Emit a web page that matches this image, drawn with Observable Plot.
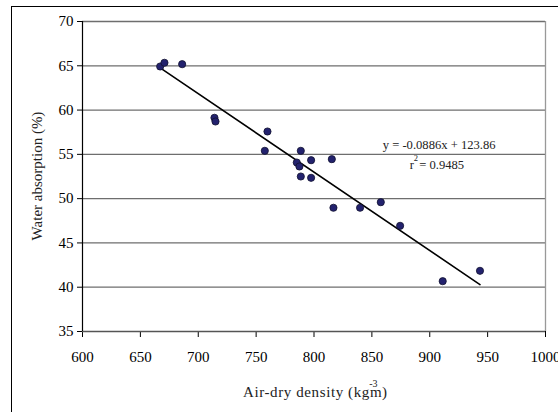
<!DOCTYPE html>
<html><head><meta charset="utf-8">
<script src="https://cdn.jsdelivr.net/npm/d3@7"></script>
<script src="https://cdn.jsdelivr.net/npm/@observablehq/plot@0.6"></script>
<style>body{margin:0;background:#fff;overflow:hidden}</style>
</head><body><div id="chart"></div>
<script>
// Data
const density    = [667.1, 670.8, 686.1, 714.0, 714.9, 759.8, 757.5, 788.6, 797.5, 785.1, 787.4, 788.6, 797.5, 815.4, 816.8, 839.8, 857.7, 874.4, 911.2, 943.4];
const absorption = [64.92, 65.34, 65.18, 59.13, 58.71, 57.58, 55.40, 55.40, 54.34, 54.08, 53.63, 52.50, 52.35, 54.46, 48.97, 48.97, 49.60, 46.93, 40.68, 41.85];
const xTicks = [600, 650, 700, 750, 800, 850, 900, 950, 1000];
const yTicks = [35, 40, 45, 50, 55, 60, 65, 70];
const equationText = "y = -0.0886x + 123.86";
const rText = "r";
const rSup = "2";
const rValue = "= 0.9485";
const xLabelMain = "Air-dry density (kgm";
const xLabelSup = "-3";
const xLabelEnd = ")";
const yLabel = "Water absorption (%)";
// annotation anchor positions (data units)
const annX = [908.1, 884.6, 888.1, 890.9];
const annY = [56.11, 53.83, 54.53, 53.83];

const data = density.map((d, i) => ({x: d, y: absorption[i]}));
const font = "'Liberation Serif', 'Times New Roman', Times, serif";

const W = 558, H = 412;
const mL = 82, mR = 13, mT = 21, mB = 81;

const plot = Plot.plot({
  width: W, height: H,
  marginLeft: mL, marginRight: mR, marginTop: mT, marginBottom: mB,
  style: {fontFamily: font, fontSize: "15px", background: "transparent", color: "#000", overflow: "visible"},
  x: {domain: [600, 1000], ticks: xTicks, tickSize: 6, tickPadding: 14, label: null, tickFormat: d => String(d)},
  y: {domain: [35, 70], ticks: yTicks, tickSize: 5, tickPadding: 4, label: null},
  marks: [
    Plot.ruleY(yTicks.slice(1), {stroke: "#6e6e6e", strokeWidth: 1.3}),
    Plot.ruleX([1000], {stroke: "#999", strokeWidth: 1.3}),
    Plot.ruleY([35], {stroke: "#555", strokeWidth: 1.3}),
    Plot.ruleX([600], {stroke: "#000", strokeWidth: 1.2}),
    Plot.linearRegressionY(data, {x: "x", y: "y", stroke: "#000", strokeWidth: 1.6, ci: 0}),
    Plot.dot(data, {x: "x", y: "y", r: 3.6, fill: "#23226e", stroke: "#10102e", strokeWidth: 0.8}),
    Plot.text([equationText], {x: [annX[0]], y: [annY[0]], text: d => d, fontSize: 12.6, textAnchor: "middle", fill: "#222"}),
    Plot.text([rText], {x: [annX[1]], y: [annY[1]], text: d => d, fontSize: 12.6, textAnchor: "middle", fill: "#222"}),
    Plot.text([rSup], {x: [annX[2]], y: [annY[2]], text: d => d, fontSize: 8.5, textAnchor: "middle", fill: "#222"}),
    Plot.text([rValue], {x: [annX[3]], y: [annY[3]], text: d => d, fontSize: 12.6, textAnchor: "start", fill: "#222"})
  ]
});

const svg = d3.select(plot);
svg.append("rect")
  .attr("x", 11.5).attr("y", 6.5).attr("width", W + 20).attr("height", H + 20)
  .attr("fill", "none").attr("stroke", "#000").attr("stroke-width", 1);
const xl = svg.append("text")
  .attr("x", 243).attr("y", 397)
  .attr("text-anchor", "start").attr("font-size", 15).attr("fill", "#222");
xl.append("tspan").attr("letter-spacing", 0.6).text(xLabelMain);
xl.append("tspan").attr("dx", -13).attr("dy", -10).attr("font-size", 10).text(xLabelSup);
xl.append("tspan").attr("dx", 4.5).attr("dy", 10).text(xLabelEnd);
svg.append("text")
  .attr("transform", `translate(42,${(mT + (H - mB)) / 2}) rotate(-90)`)
  .attr("text-anchor", "middle").attr("font-size", 15).attr("fill", "#222")
  .text(yLabel);

document.getElementById("chart").appendChild(plot);
</script>
</body></html>
